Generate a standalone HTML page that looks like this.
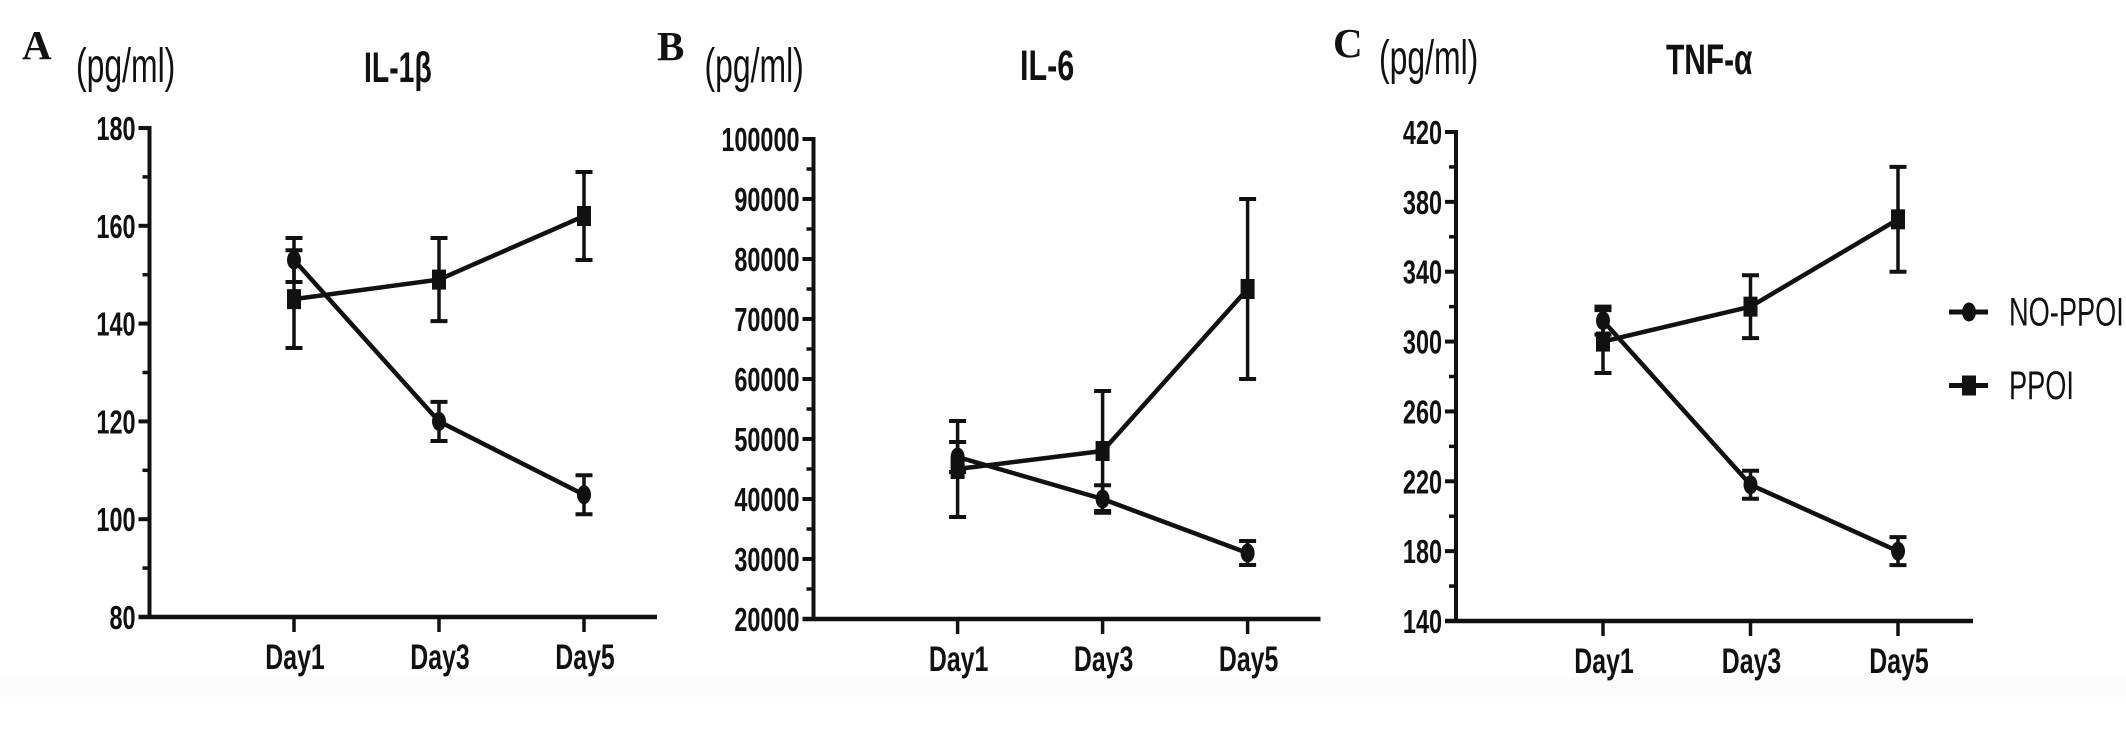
<!DOCTYPE html>
<html lang="en">
<head>
<meta charset="utf-8">
<title>IL-1β, IL-6 and TNF-α by day</title>
<style>
html,body{margin:0;padding:0;background:#fff;width:2126px;height:735px;overflow:hidden}
svg{display:block}
text{fill:#111}
</style>
</head>
<body>
<svg id="fig" xmlns="http://www.w3.org/2000/svg" width="2126" height="735" viewBox="0 0 2126 735">
<rect x="0" y="677" width="2126" height="21" fill="#fcfcfc"></rect>
</svg>
<script>
const categories = ["Day1", "Day3", "Day5"];
const seriesNames = ["NO-PPOI", "PPOI"];

const il1bTicks = [80, 100, 120, 140, 160, 180];
const il1bNoPpoi = [153, 120, 105];
const il1bNoPpoiUpper = [157.5, 124, 109];
const il1bNoPpoiLower = [148.5, 116, 101];
const il1bPpoi = [145, 149, 162];
const il1bPpoiUpper = [155, 157.5, 171];
const il1bPpoiLower = [135, 140.5, 153];

const il6Ticks = [20000, 30000, 40000, 50000, 60000, 70000, 80000, 90000, 100000];
const il6NoPpoi = [47000, 40000, 31000];
const il6NoPpoiUpper = [49500, 42300, 33000];
const il6NoPpoiLower = [44500, 37700, 29000];
const il6Ppoi = [45000, 48000, 75000];
const il6PpoiUpper = [53000, 58000, 90000];
const il6PpoiLower = [37000, 38000, 60000];

const tnfTicks = [140, 180, 220, 260, 300, 340, 380, 420];
const tnfNoPpoi = [312, 218, 180];
const tnfNoPpoiUpper = [320, 226, 188];
const tnfNoPpoiLower = [304, 210, 172];
const tnfPpoi = [300, 320, 370];
const tnfPpoiUpper = [318, 338, 400];
const tnfPpoiLower = [282, 302, 340];

const svg = document.getElementById('fig');
const NS = 'http://www.w3.org/2000/svg';
const INK = '#111';

function mk(parent, tag, attrs, name) {
  const el = document.createElementNS(NS, tag);
  for (const k in attrs) el.setAttribute(k, attrs[k]);
  
  
  parent.appendChild(el);
  return el;
}

function label(parent, str, x, y, size, opts, name) {
  const sx = opts.sx || 1;
  const el = mk(parent, 'text', {
    transform: 'translate(' + x + ' ' + y + ') scale(' + sx + ' 1)',
    'font-family': opts.family || '"Liberation Sans", sans-serif',
    'font-size': size,
    'font-weight': opts.weight || 'normal',
    'text-anchor': opts.anchor || 'start'
  }, name);
  el.textContent = str;
  return el;
}

function seg(parent, x1, y1, x2, y2, w, name) {
  return mk(parent, 'line', {x1: x1, y1: y1, x2: x2, y2: y2, stroke: INK, 'stroke-width': w}, name);
}

function marker(parent, kind, cx, cy, name) {
  if (kind === 'circle') {
    return mk(parent, 'ellipse', {cx: cx, cy: cy, rx: 7, ry: 9.5, fill: INK}, name);
  }
  return mk(parent, 'rect', {x: cx - 7, y: cy - 10, width: 14, height: 20, fill: INK}, name);
}

function drawSeries(g, xOf, yOf, kind, slug, values, upper, lower) {
  const s = mk(g, 'g', {}, slug + '-series');
  const pts = values.map(function (v, i) { return xOf(i) + ',' + yOf(v); }).join(' ');
  mk(s, 'polyline', {points: pts, fill: 'none', stroke: INK, 'stroke-width': 4.5}, slug + '-line');
  values.forEach(function (v, i) {
    const x = xOf(i);
    const tag = slug + '-' + categories[i].toLowerCase();
    seg(s, x, yOf(upper[i]), x, yOf(lower[i]), 3.5, tag + '-error-bar');
    seg(s, x - 8.5, yOf(upper[i]), x + 8.5, yOf(upper[i]), 4, tag + '-error-cap-upper');
    seg(s, x - 8.5, yOf(lower[i]), x + 8.5, yOf(lower[i]), 4, tag + '-error-cap-lower');
    marker(s, kind, x, yOf(v), tag + '-marker');
  });
}

function drawPanel(p) {
  const g = mk(svg, 'g', {}, p.slug + '-panel');
  const min = p.ticks[0];
  const max = p.ticks[p.ticks.length - 1];
  const yOf = function (v) { return p.bottom - (v - min) / (max - min) * (p.bottom - p.top); };
  const xOf = function (i) { return p.day1 + i * p.dayStep; };

  label(g, p.letter, p.letterX, p.letterY, 41, {family: '"Liberation Serif", serif', weight: 'bold'}, p.slug + '-panel-letter');
  label(g, '(pg/ml)', p.unitX, p.unitY, 48, {sx: 0.665}, p.slug + '-y-axis-unit');
  label(g, p.title, p.titleX, p.titleY, 43, {weight: 'bold', sx: p.titleSx}, p.slug + '-chart-title');

  const axes = mk(g, 'g', {}, p.slug + '-axes');
  seg(axes, p.axisX, p.top - 2, p.axisX, p.bottom + 2, 4, p.slug + '-y-axis-line');
  seg(axes, p.axisX - 11, p.bottom, p.axisEnd, p.bottom, 4.5, p.slug + '-x-axis-line');
  p.ticks.forEach(function (t, i) {
    const y = yOf(t);
    if (i > 0) seg(axes, p.axisX - 11, y, p.axisX, y, 4, p.slug + '-y-tick-' + t);
    label(axes, String(t), p.axisX - 14, y + 12, 33, {weight: 'bold', anchor: 'end', sx: 0.71}, p.slug + '-y-tick-label-' + t);
    if (i < p.ticks.length - 1) {
      const m = yOf((t + p.ticks[i + 1]) / 2);
      seg(axes, p.axisX - 7, m, p.axisX, m, 3.5, p.slug + '-y-minor-tick');
    }
  });
  categories.forEach(function (c, i) {
    seg(axes, xOf(i), p.bottom, xOf(i), p.bottom + 15, 3.5, p.slug + '-x-tick-' + c.toLowerCase());
    label(axes, c, xOf(i) + 1, p.bottom + 52, 35, {weight: 'bold', anchor: 'middle', sx: 0.71}, p.slug + '-x-tick-label-' + c.toLowerCase());
  });

  drawSeries(g, xOf, yOf, 'circle', p.slug + '-no-ppoi', p.no, p.noUp, p.noLo);
  drawSeries(g, xOf, yOf, 'square', p.slug + '-ppoi', p.pp, p.ppUp, p.ppLo);
}

drawPanel({slug: 'il1b', letter: 'A', letterX: 22, letterY: 59, unitX: 76, unitY: 82,
  title: 'IL-1β', titleX: 364, titleY: 82, titleSx: 0.66,
  axisX: 149.5, axisEnd: 657, top: 128, bottom: 617, day1: 294, dayStep: 145,
  ticks: il1bTicks, no: il1bNoPpoi, noUp: il1bNoPpoiUpper, noLo: il1bNoPpoiLower,
  pp: il1bPpoi, ppUp: il1bPpoiUpper, ppLo: il1bPpoiLower});

drawPanel({slug: 'il6', letter: 'B', letterX: 657, letterY: 60, unitX: 704.5, unitY: 82,
  title: 'IL-6', titleX: 1020, titleY: 80, titleSx: 0.71,
  axisX: 813.5, axisEnd: 1320.5, top: 139, bottom: 619, day1: 957.6, dayStep: 145,
  ticks: il6Ticks, no: il6NoPpoi, noUp: il6NoPpoiUpper, noLo: il6NoPpoiLower,
  pp: il6Ppoi, ppUp: il6PpoiUpper, ppLo: il6PpoiLower});

drawPanel({slug: 'tnf', letter: 'C', letterX: 1333, letterY: 57, unitX: 1379, unitY: 74,
  title: 'TNF-α', titleX: 1666, titleY: 74, titleSx: 0.695,
  axisX: 1456, axisEnd: 1973, top: 132, bottom: 621, day1: 1603, dayStep: 147.5,
  ticks: tnfTicks, no: tnfNoPpoi, noUp: tnfNoPpoiUpper, noLo: tnfNoPpoiLower,
  pp: tnfPpoi, ppUp: tnfPpoiUpper, ppLo: tnfPpoiLower});

const legend = mk(svg, 'g', {}, 'legend');
const legendKinds = ['circle', 'square'];
seriesNames.forEach(function (n, i) {
  const y = 312 + i * 73.5;
  const e = mk(legend, 'g', {}, 'legend-entry');
  seg(e, 1949, y, 1988, y, 5, 'legend-line');
  marker(e, legendKinds[i], 1969, y, 'legend-marker');
  label(e, n, 2009, y + 13.5, 40, {sx: 0.68}, 'legend-label');
});
</script>
</body>
</html>
